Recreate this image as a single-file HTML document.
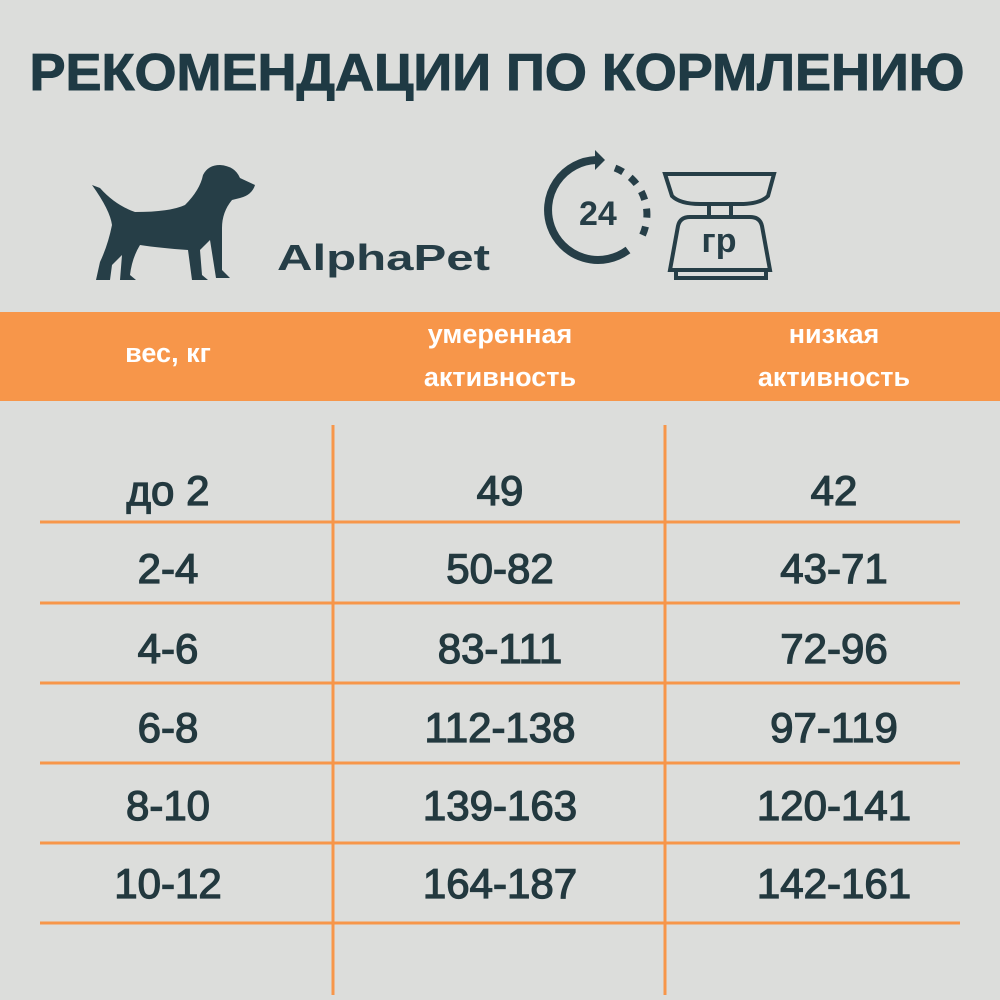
<!DOCTYPE html>
<html><head><meta charset="utf-8"><style>
html,body{margin:0;padding:0;background:#dcdddb;}
svg{display:block;}
text{font-family:"Liberation Sans",sans-serif;}
</style></head><body>
<svg width="1000" height="1000" viewBox="0 0 1000 1000" xmlns="http://www.w3.org/2000/svg">
<rect width="1000" height="1000" fill="#dcdddb"/>
<text x="497" y="90" font-size="52" font-weight="bold" fill="#1f3a44" text-anchor="middle" textLength="935" lengthAdjust="spacingAndGlyphs" stroke="#1f3a44" stroke-width="1">РЕКОМЕНДАЦИИ ПО КОРМЛЕНИЮ</text>
<!-- dog -->
<g fill="#263e47">
<path d="M92 185 L100 188 Q115 205 135 212 Q170 212 185 205 Q200 190 203 175 Q208 165 220 165 Q235 166 240 178 L255 185 Q252 195 240 198 L232 200 Q222 212 222 228 L222 270 L230 278 L216 278 L210 240 Q205 245 200 250 L202 275 L208 280 L192 280 L188 250 Q160 248 140 245 Q132 258 130 275 L136 280 L120 280 L122 255 L112 265 L110 280 L96 280 L100 262 Q108 245 112 225 Q110 210 92 185 Z"/>
</g>
<text x="277" y="270" font-size="36" font-weight="bold" fill="#263e47" textLength="213" lengthAdjust="spacingAndGlyphs">AlphaPet</text>
<!-- clock arrow -->
<path d="M596 160 A50 50 0 1 0 628 250" fill="none" stroke="#263e47" stroke-width="8"/>
<path d="M595 150 L605 160 L595 170 Z" fill="#263e47"/>
<g stroke="#263e47" stroke-width="7" stroke-dasharray="9 9" fill="none"><path d="M615 168 A50 50 0 0 1 640 240"/></g>
<text x="579" y="225" font-size="34" font-weight="bold" fill="#263e47">24</text>
<!-- scale -->
<g fill="none" stroke="#263e47" stroke-width="4">
<path d="M665 174 L774 174 L768 196 Q760 204 740 204 L700 204 Q680 204 672 196 Z"/>
<rect x="709" y="204" width="22" height="13"/>
<path d="M690 217 L750 217 Q760 217 762 226 L770 270 L670 270 L678 226 Q680 217 690 217 Z"/>
<rect x="676" y="270" width="90" height="8"/>
</g>
<text x="719" y="252" font-size="34" font-weight="bold" fill="#263e47" text-anchor="middle">гр</text>
<!-- orange band -->
<rect x="0" y="312" width="1000" height="89" fill="#f7964a"/>
<g fill="#fff" font-size="27" font-weight="bold" text-anchor="middle">
<text x="168" y="362">вес, кг</text>
<text x="500" y="343">умеренная</text>
<text x="500" y="386">активность</text>
<text x="834" y="343">низкая</text>
<text x="834" y="386">активность</text>
</g>
<!-- table lines -->
<g stroke="#f7964a" stroke-width="3">
<line x1="333" y1="425" x2="333" y2="995"/>
<line x1="665" y1="425" x2="665" y2="995"/>
<line x1="40" y1="522" x2="960" y2="522"/>
<line x1="40" y1="603" x2="960" y2="603"/>
<line x1="40" y1="683" x2="960" y2="683"/>
<line x1="40" y1="763" x2="960" y2="763"/>
<line x1="40" y1="843" x2="960" y2="843"/>
<line x1="40" y1="923" x2="960" y2="923"/>
</g>
<g fill="#23393f" stroke="#23393f" stroke-width="1.3" font-size="42" text-anchor="middle">
<text x="168" y="505">до 2</text><text x="500" y="505">49</text><text x="834" y="505">42</text>
<text x="168" y="583">2-4</text><text x="500" y="583">50-82</text><text x="834" y="583">43-71</text>
<text x="168" y="663">4-6</text><text x="500" y="663">83-111</text><text x="834" y="663">72-96</text>
<text x="168" y="742">6-8</text><text x="500" y="742">112-138</text><text x="834" y="742">97-119</text>
<text x="168" y="820">8-10</text><text x="500" y="820">139-163</text><text x="834" y="820">120-141</text>
<text x="168" y="898">10-12</text><text x="500" y="898">164-187</text><text x="834" y="898">142-161</text>
</g>
</svg>
</body></html>
